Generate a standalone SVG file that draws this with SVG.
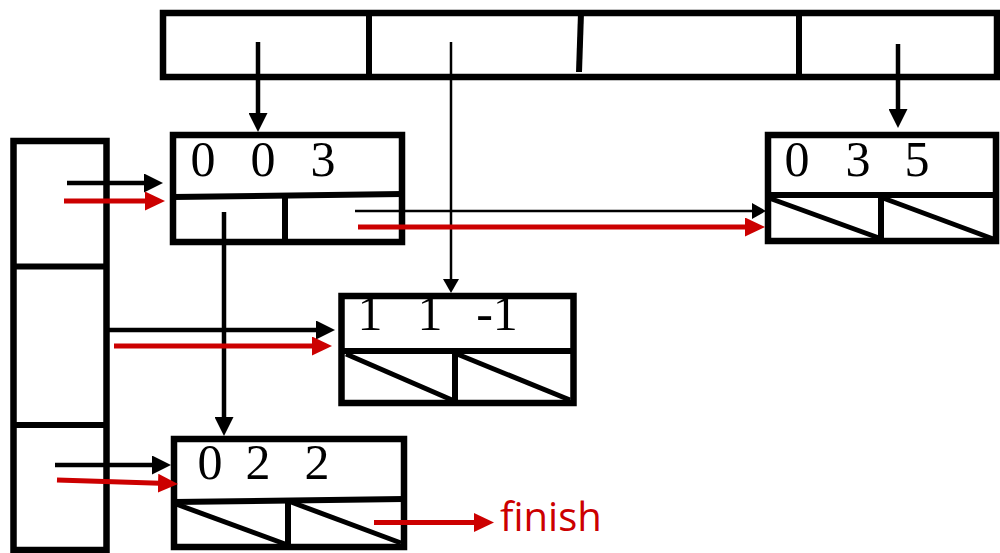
<svg xmlns="http://www.w3.org/2000/svg" width="1000" height="553" viewBox="0 0 1000 553">
<style>
.box{fill:none;stroke:#000;stroke-width:6.5;stroke-linejoin:miter}
.ln{fill:none;stroke:#000;stroke-width:6}
.diag{fill:none;stroke:#000;stroke-width:5}
.num{font-family:"Liberation Serif","Times New Roman",serif;font-size:50px;fill:#000;text-anchor:middle}
.a{fill:none;stroke:#000;stroke-width:4.5}
.at{fill:none;stroke:#000;stroke-width:2.5}
.ar{fill:none;stroke:#cc0000;stroke-width:5}
.lbl{font-family:"Open Sans","Liberation Sans",sans-serif;font-size:40px;fill:#cc0000}
</style>
<defs>
<marker id="hb" markerUnits="userSpaceOnUse" viewBox="0 -9.5 19 19" refX="2" refY="0" markerWidth="19" markerHeight="19" orient="auto"><path d="M0,-9.5 L19,0 L0,9.5 z" fill="#000"/></marker>
<marker id="hs" markerUnits="userSpaceOnUse" viewBox="0 -8 14 16" refX="2" refY="0" markerWidth="14" markerHeight="16" orient="auto"><path d="M0,-8 L14,0 L0,8 z" fill="#000"/></marker>
<marker id="hr" markerUnits="userSpaceOnUse" viewBox="0 -9.5 20 19" refX="2" refY="0" markerWidth="20" markerHeight="19" orient="auto"><path d="M0,-9.5 L20,0 L0,9.5 z" fill="#cc0000"/></marker>
</defs>

<g id="top-array">
<rect class="box" x="163" y="13" width="834" height="64"/>
<line class="ln" x1="369" y1="13" x2="369" y2="77"/>
<line class="ln" x1="581" y1="13" x2="579" y2="72"/>
<line class="ln" x1="799" y1="13" x2="799" y2="77"/>
</g>

<g id="left-array">
<rect class="box" x="13.5" y="141" width="93" height="409"/>
<line class="ln" x1="13.5" y1="266.5" x2="106.5" y2="266.5"/>
<line class="ln" x1="13.5" y1="425" x2="106.5" y2="425"/>
</g>

<g id="node-003">
<text class="num" x="203" y="176">0</text>
<text class="num" x="263" y="176">0</text>
<text class="num" x="323" y="176">3</text>
<rect class="box" x="173" y="135" width="229" height="107"/>
<line class="ln" x1="173" y1="197" x2="402" y2="194"/>
<line class="ln" x1="285" y1="195" x2="285" y2="242"/>
</g>

<g id="node-035">
<text class="num" x="797" y="176">0</text>
<text class="num" x="858" y="176">3</text>
<text class="num" x="917" y="176">5</text>
<rect class="box" x="768" y="135" width="228" height="106"/>
<line class="ln" x1="768" y1="195" x2="996" y2="195"/>
<line class="ln" x1="881" y1="195" x2="881" y2="241"/>
<line class="diag" x1="769" y1="198" x2="879" y2="238"/>
<line class="diag" x1="883" y1="198" x2="996" y2="240"/>
</g>

<g id="node-11-1">
<text class="num" x="370" y="330">1</text>
<text class="num" x="430" y="330">1</text>
<text class="num" x="497" y="330">-1</text>
<rect class="box" x="341.5" y="296" width="232" height="107"/>
<line class="ln" x1="341.5" y1="351" x2="573.5" y2="351"/>
<line class="ln" x1="455" y1="351" x2="455" y2="403"/>
<line class="diag" x1="346" y1="354" x2="452" y2="400"/>
<line class="diag" x1="457" y1="354" x2="570" y2="400"/>
</g>

<g id="node-022">
<text class="num" x="210" y="479">0</text>
<text class="num" x="258" y="479">2</text>
<text class="num" x="317" y="479">2</text>
<rect class="box" x="174" y="439" width="230" height="108"/>
<line class="ln" x1="174" y1="502" x2="404" y2="499"/>
<line class="ln" x1="288" y1="500" x2="288" y2="547"/>
<line class="diag" x1="176" y1="504" x2="285" y2="544"/>
<line class="diag" x1="291" y1="502" x2="401" y2="543"/>
</g>

<g id="connectors">
<line class="a" x1="258" y1="42" x2="258" y2="115" marker-end="url(#hb)"/>
<line class="at" x1="451" y1="42" x2="451" y2="281" marker-end="url(#hs)"/>
<line class="a" x1="898" y1="44" x2="898" y2="111" marker-end="url(#hb)"/>
<line class="a" x1="67" y1="183" x2="146" y2="183" marker-end="url(#hb)"/>
<line class="ar" x1="64" y1="201" x2="147" y2="201" marker-end="url(#hr)"/>
<line class="at" x1="355" y1="211" x2="754" y2="211" marker-end="url(#hs)"/>
<line class="ar" x1="358" y1="227" x2="747" y2="227" marker-end="url(#hr)"/>
<line class="a" x1="224" y1="212" x2="224" y2="419" marker-end="url(#hb)"/>
<line class="a" x1="108" y1="330" x2="318" y2="330" marker-end="url(#hb)"/>
<line class="ar" x1="114" y1="346" x2="314" y2="346" marker-end="url(#hr)"/>
<line class="a" x1="55" y1="465" x2="154" y2="465" marker-end="url(#hb)"/>
<line class="ar" x1="57" y1="480" x2="160" y2="483.3" marker-end="url(#hr)"/>
<line class="ar" x1="374" y1="522.5" x2="476" y2="522.5" marker-end="url(#hr)"/>
<text class="lbl" x="500" y="531">finish</text>
</g>
</svg>
